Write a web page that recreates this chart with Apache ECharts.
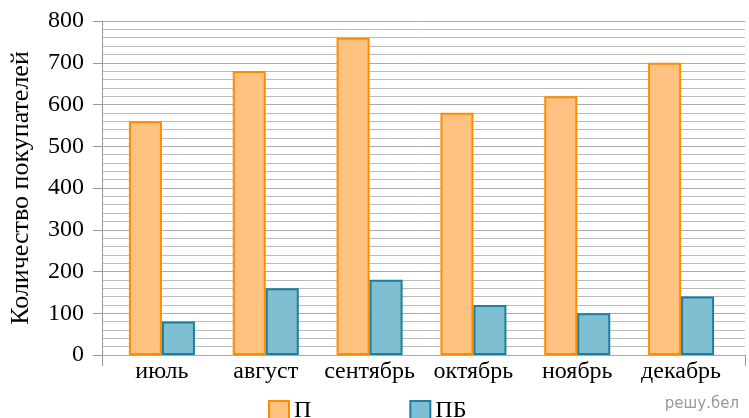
<!DOCTYPE html>
<html lang="ru">
  <head>
    <meta charset="UTF-8" />
    <title>Покупатели</title>
    <script src="https://cdn.jsdelivr.net/npm/echarts@6/dist/echarts.min.js"></script>
  </head>
  <style>
    html,
    body {
      margin: 0;
      padding: 0;
      background: #fff;
    }
    #echart {
      width: 749px;
      height: 418px;
    }
  </style>
  <body>
    <div id="echart"></div>
  </body>
  <script>
    const months = ["июль", "август", "сентябрь", "октябрь", "ноябрь", "декабрь"];
    const seriesP = [560, 680, 760, 580, 620, 700];
    const seriesPB = [80, 160, 180, 120, 100, 140];

    const chart = echarts.init(document.getElementById("echart"));
    const font = "Liberation Serif";

    const option = {
      animation: false,
      textStyle: { fontFamily: font },
      // grid 0: рамка с сеткой, grid 1: столбцы
      grid: [
        { left: 101, right: 4, top: 21, bottom: 63 },
        { left: 110, right: 16, top: 21, bottom: 63 },
      ],
      legend: {
        left: 263,
        top: 394,
        itemWidth: 20,
        itemHeight: 20,
        itemGap: 98,
        icon: "rect",
        textStyle: { fontFamily: font, fontSize: 24, color: "#000" },
        data: ["П", "ПБ"],
      },
      xAxis: [
        {
          gridIndex: 0,
          type: "category",
          data: months,
          axisLine: { show: false },
          axisLabel: { show: false },
          axisTick: {
            show: true,
            length: 11,
            interval: (i) => i === 0,
            lineStyle: { color: "#999" },
          },
        },
        {
          gridIndex: 1,
          type: "category",
          data: months,
          axisLine: { show: false },
          axisTick: { show: false },
          axisLabel: { fontFamily: font, fontSize: 24, color: "#000", margin: 5, interval: 0 },
        },
      ],
      yAxis: [
        {
          gridIndex: 0,
          type: "value",
          min: 0,
          max: 800,
          interval: 100,
          name: "Количество покупателей",
          nameLocation: "middle",
          nameGap: 68,
          nameTextStyle: { fontFamily: font, fontSize: 26, color: "#000" },
          axisLine: { show: true, lineStyle: { color: "#999" } },
          axisTick: { show: true, length: 9, lineStyle: { color: "#999" } },
          axisLabel: { fontFamily: font, fontSize: 24, color: "#000", margin: 18 },
          splitLine: { show: true, lineStyle: { color: "#aaa" } },
          minorTick: { show: false, splitNumber: 5 },
          minorSplitLine: { show: true, lineStyle: { color: "#bbb" } },
        },
        {
          gridIndex: 1,
          type: "value",
          min: 0,
          max: 800,
          interval: 100,
          show: false,
          splitLine: { show: false },
        },
      ],
      series: [
        {
          name: "П",
          type: "bar",
          xAxisIndex: 1,
          yAxisIndex: 1,
          data: seriesP,
          barWidth: 33,
          barGap: "0%",
          itemStyle: { color: "#ffc280", borderColor: "#ff8c00", borderWidth: 2 },
        },
        {
          name: "ПБ",
          type: "bar",
          xAxisIndex: 1,
          yAxisIndex: 1,
          data: seriesPB,
          barWidth: 33,
          itemStyle: { color: "#80bfd2", borderColor: "#1a7fa0", borderWidth: 2 },
        },
      ],
      graphic: [
        {
          type: "text",
          right: 10,
          top: 397,
          style: {
            text: "решу.бел",
            fill: "#999",
            font: "15px 'DejaVu Sans'",
          },
        },
      ],
    };

    chart.setOption(option);
  </script>
</html>
